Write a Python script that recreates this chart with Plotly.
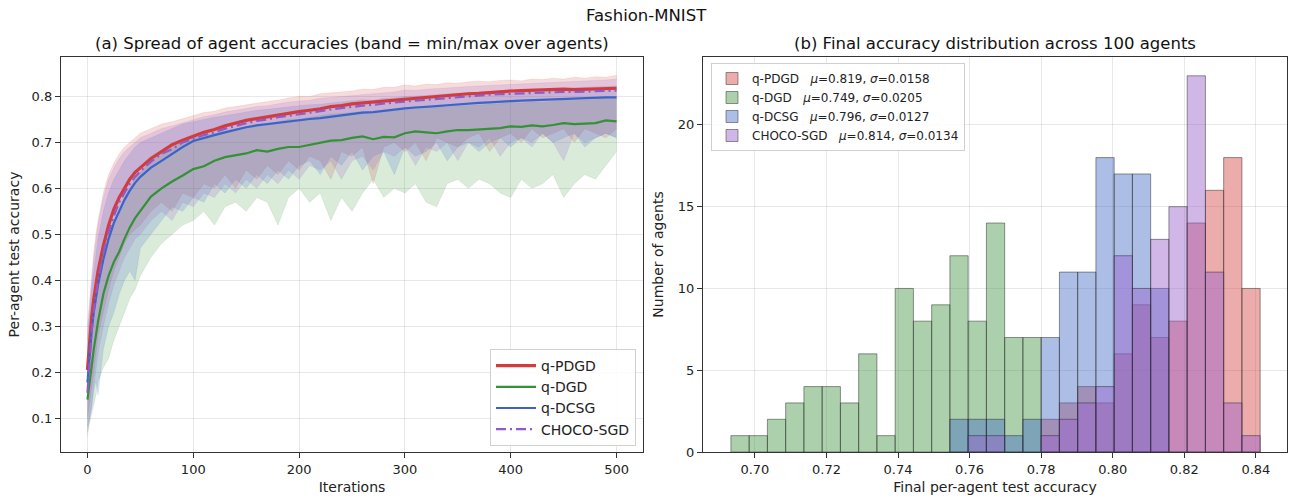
import plotly.graph_objects as go

# ---------------- data: panel (a) ----------------
iters = [0, 2, 4, 6, 8, 10, 15, 20, 25, 30, 35, 40, 45, 50,
         60, 70, 80, 90, 100, 110, 120, 130, 140, 150, 160, 170, 180, 190, 200,
         210, 220, 230, 240, 250, 260, 270, 280, 290, 300, 310, 320, 330, 340, 350,
         360, 370, 380, 390, 400, 410, 420, 430, 440, 450, 460, 470, 480, 490, 500]

pdgd_mean = [0.205, 0.27, 0.32, 0.36, 0.395, 0.42, 0.475, 0.52, 0.555, 0.58, 0.60, 0.62, 0.635, 0.645,
             0.665, 0.68, 0.695, 0.705, 0.713, 0.722, 0.728, 0.736, 0.742, 0.748, 0.752, 0.756, 0.760, 0.763, 0.767,
             0.770, 0.773, 0.778, 0.780, 0.784, 0.786, 0.789, 0.791, 0.793, 0.795, 0.797, 0.799, 0.800, 0.802, 0.804,
             0.806, 0.807, 0.809, 0.810, 0.812, 0.813, 0.814, 0.814, 0.815, 0.816, 0.815, 0.816, 0.817, 0.818, 0.818]
pdgd_lo = [0.10, 0.13, 0.16, 0.20, 0.24, 0.28, 0.33, 0.38, 0.42, 0.45, 0.48, 0.50, 0.51, 0.52,
           0.55, 0.57, 0.55, 0.59, 0.58, 0.61, 0.60, 0.63, 0.60, 0.64, 0.62, 0.65, 0.63, 0.66, 0.64,
           0.67, 0.66, 0.62, 0.68, 0.67, 0.69, 0.61, 0.69, 0.70, 0.68, 0.70, 0.66, 0.71, 0.70, 0.69,
           0.71, 0.72, 0.68, 0.71, 0.72, 0.70, 0.73, 0.71, 0.72, 0.73, 0.70, 0.73, 0.72, 0.71, 0.73]
pdgd_hi = [0.30, 0.36, 0.41, 0.46, 0.50, 0.53, 0.59, 0.63, 0.655, 0.675, 0.69, 0.70, 0.712, 0.72,
           0.73, 0.74, 0.745, 0.752, 0.758, 0.765, 0.768, 0.775, 0.778, 0.782, 0.786, 0.789, 0.792, 0.797, 0.800,
           0.800, 0.806, 0.808, 0.810, 0.812, 0.816, 0.815, 0.820, 0.820, 0.825, 0.823, 0.827, 0.826, 0.830, 0.829,
           0.832, 0.833, 0.832, 0.835, 0.836, 0.834, 0.838, 0.837, 0.840, 0.838, 0.842, 0.840, 0.843, 0.842, 0.846]

dgd_mean = [0.14, 0.18, 0.215, 0.25, 0.28, 0.31, 0.37, 0.41, 0.44, 0.462, 0.49, 0.515, 0.535, 0.55,
            0.582, 0.60, 0.615, 0.628, 0.642, 0.648, 0.66, 0.668, 0.672, 0.676, 0.683, 0.680, 0.686, 0.690, 0.690,
            0.695, 0.700, 0.704, 0.705, 0.710, 0.713, 0.707, 0.712, 0.711, 0.720, 0.724, 0.722, 0.720, 0.724, 0.727,
            0.727, 0.728, 0.730, 0.731, 0.735, 0.734, 0.737, 0.735, 0.738, 0.742, 0.740, 0.741, 0.742, 0.748, 0.746]
dgd_lo = [0.07, 0.09, 0.11, 0.13, 0.15, 0.18, 0.21, 0.23, 0.27, 0.30, 0.33, 0.36, 0.38, 0.41,
          0.45, 0.48, 0.50, 0.52, 0.53, 0.55, 0.52, 0.56, 0.57, 0.55, 0.58, 0.57, 0.52, 0.58, 0.60,
          0.57, 0.59, 0.53, 0.58, 0.55, 0.59, 0.62, 0.58, 0.60, 0.59, 0.61, 0.57, 0.56, 0.61, 0.62,
          0.60, 0.62, 0.61, 0.59, 0.58, 0.62, 0.60, 0.61, 0.63, 0.58, 0.61, 0.63, 0.62, 0.65, 0.68]
dgd_hi = [0.22, 0.27, 0.31, 0.35, 0.38, 0.41, 0.46, 0.50, 0.53, 0.55, 0.58, 0.60, 0.62, 0.635,
          0.66, 0.68, 0.69, 0.70, 0.71, 0.715, 0.72, 0.725, 0.73, 0.735, 0.74, 0.74, 0.745, 0.75, 0.75,
          0.755, 0.758, 0.762, 0.763, 0.766, 0.768, 0.765, 0.77, 0.768, 0.775, 0.778, 0.776, 0.775, 0.778, 0.78,
          0.78, 0.782, 0.783, 0.784, 0.787, 0.786, 0.788, 0.787, 0.79, 0.792, 0.791, 0.792, 0.793, 0.797, 0.795]

dcsg_mean = [0.177, 0.24, 0.29, 0.33, 0.36, 0.39, 0.445, 0.49, 0.525, 0.55, 0.575, 0.595, 0.612, 0.625,
             0.645, 0.66, 0.675, 0.69, 0.703, 0.71, 0.716, 0.722, 0.728, 0.733, 0.737, 0.740, 0.743, 0.746, 0.749,
             0.751, 0.753, 0.756, 0.759, 0.762, 0.765, 0.766, 0.769, 0.771, 0.774, 0.776, 0.777, 0.779, 0.781, 0.783,
             0.784, 0.786, 0.787, 0.789, 0.790, 0.791, 0.792, 0.793, 0.793, 0.794, 0.795, 0.796, 0.797, 0.798, 0.798]
dcsg_lo = [0.08, 0.10, 0.12, 0.16, 0.18, 0.15, 0.25, 0.30, 0.33, 0.37, 0.40, 0.42, 0.40, 0.47,
           0.50, 0.53, 0.56, 0.55, 0.58, 0.57, 0.61, 0.59, 0.62, 0.60, 0.63, 0.61, 0.64, 0.62, 0.65,
           0.66, 0.63, 0.67, 0.65, 0.68, 0.64, 0.67, 0.68, 0.63, 0.69, 0.67, 0.68, 0.70, 0.66, 0.69,
           0.70, 0.68, 0.70, 0.71, 0.69, 0.71, 0.70, 0.72, 0.70, 0.71, 0.72, 0.69, 0.71, 0.72, 0.71]
dcsg_hi = [0.27, 0.33, 0.38, 0.42, 0.46, 0.49, 0.55, 0.59, 0.62, 0.64, 0.66, 0.675, 0.69, 0.70,
           0.71, 0.72, 0.73, 0.74, 0.745, 0.75, 0.755, 0.758, 0.762, 0.766, 0.77, 0.772, 0.775, 0.777, 0.78,
           0.782, 0.783, 0.786, 0.788, 0.79, 0.793, 0.792, 0.796, 0.797, 0.80, 0.801, 0.802, 0.804, 0.806, 0.807,
           0.808, 0.81, 0.811, 0.812, 0.814, 0.813, 0.816, 0.815, 0.817, 0.818, 0.818, 0.82, 0.82, 0.822, 0.823]

choco_mean = [0.155, 0.23, 0.29, 0.335, 0.37, 0.40, 0.46, 0.505, 0.54, 0.57, 0.59, 0.61, 0.625, 0.637,
              0.658, 0.675, 0.685, 0.70, 0.708, 0.716, 0.722, 0.73, 0.736, 0.742, 0.747, 0.750, 0.755, 0.758, 0.761,
              0.765, 0.768, 0.772, 0.775, 0.778, 0.780, 0.782, 0.785, 0.787, 0.789, 0.791, 0.793, 0.795, 0.797, 0.799,
              0.800, 0.802, 0.804, 0.805, 0.806, 0.807, 0.808, 0.808, 0.809, 0.810, 0.810, 0.811, 0.812, 0.813, 0.813]
choco_lo = [0.06, 0.09, 0.13, 0.17, 0.20, 0.24, 0.30, 0.35, 0.39, 0.42, 0.45, 0.47, 0.49, 0.50,
            0.53, 0.55, 0.53, 0.57, 0.56, 0.59, 0.58, 0.61, 0.59, 0.62, 0.60, 0.63, 0.61, 0.64, 0.62,
            0.65, 0.64, 0.66, 0.62, 0.66, 0.67, 0.64, 0.68, 0.67, 0.69, 0.65, 0.69, 0.68, 0.70, 0.66,
            0.70, 0.69, 0.71, 0.67, 0.70, 0.71, 0.69, 0.72, 0.70, 0.66, 0.72, 0.70, 0.71, 0.72, 0.71]
choco_hi = [0.28, 0.35, 0.40, 0.45, 0.49, 0.52, 0.58, 0.62, 0.645, 0.665, 0.68, 0.69, 0.70, 0.71,
            0.72, 0.73, 0.736, 0.743, 0.75, 0.756, 0.76, 0.766, 0.77, 0.774, 0.778, 0.78, 0.784, 0.788, 0.79,
            0.792, 0.796, 0.798, 0.80, 0.802, 0.805, 0.806, 0.808, 0.81, 0.814, 0.813, 0.816, 0.817, 0.819, 0.82,
            0.822, 0.823, 0.824, 0.826, 0.827, 0.827, 0.829, 0.83, 0.831, 0.832, 0.833, 0.833, 0.835, 0.836, 0.838]

# ---------------- data: panel (b) ----------------
bin_lo = 0.6933
bin_width = 0.0051
n_bins = 29
hist_pdgd = [0, 0, 0, 0, 0, 0, 0, 0, 0, 0, 0, 0, 0, 0, 0, 0, 0, 2, 3, 4, 3, 6, 9, 7, 8, 14, 16, 18, 10]
hist_dgd = [1, 1, 2, 3, 4, 4, 3, 6, 1, 10, 8, 9, 12, 8, 14, 7, 7, 0, 0, 0, 0, 0, 0, 0, 0, 0, 0, 0, 0]
hist_dcsg = [0, 0, 0, 0, 0, 0, 0, 0, 0, 0, 0, 0, 2, 2, 2, 1, 2, 7, 11, 11, 18, 17, 17, 10, 0, 0, 0, 0, 0]
hist_choco = [0, 0, 0, 0, 0, 0, 0, 0, 0, 0, 0, 0, 0, 1, 1, 0, 0, 1, 2, 3, 4, 12, 10, 13, 15, 23, 11, 3, 1]

names = ["q-PDGD", "q-DGD", "q-DCSG", "CHOCO-SGD"]
stats = ["<i>μ</i>=0.819, <i>σ</i>=0.0158", "<i>μ</i>=0.749, <i>σ</i>=0.0205",
         "<i>μ</i>=0.796, <i>σ</i>=0.0127", "<i>μ</i>=0.814, <i>σ</i>=0.0134"]

# ---------------- styles ----------------
FONT = "DejaVu Sans"
line_rgb = [(210, 60, 60), (52, 145, 52), (58, 100, 200), (145, 90, 200)]
line_w = [3.2, 2.2, 2.2, 2.2]
line_dash = ["solid", "solid", "solid", "10px,4px,2px,4px"]
band_alpha = 0.18
hist_rgb = [(214, 72, 72), (70, 150, 70), (70, 110, 200), (150, 95, 205)]
hist_alpha = 0.45


def rgba(c, a):
    return "rgba(%d,%d,%d,%.3f)" % (c[0], c[1], c[2], a)


fig = go.Figure()

series = [(pdgd_mean, pdgd_lo, pdgd_hi), (dgd_mean, dgd_lo, dgd_hi),
          (dcsg_mean, dcsg_lo, dcsg_hi), (choco_mean, choco_lo, choco_hi)]

# bands first (below every line, as in the reference)
for k, (m, lo, hi) in enumerate(series):
    fig.add_trace(go.Scatter(x=iters, y=hi, mode="lines",
                             line=dict(width=0.6, color=rgba(line_rgb[k], band_alpha)),
                             showlegend=False, hoverinfo="skip", xaxis="x", yaxis="y"))
    fig.add_trace(go.Scatter(x=iters, y=lo, mode="lines", fill="tonexty",
                             fillcolor=rgba(line_rgb[k], band_alpha),
                             line=dict(width=0.6, color=rgba(line_rgb[k], band_alpha)),
                             showlegend=False, hoverinfo="skip", xaxis="x", yaxis="y"))
# mean lines on top
for k, (m, lo, hi) in enumerate(series):
    fig.add_trace(go.Scatter(x=iters, y=m, mode="lines", name=names[k],
                             line=dict(width=line_w[k], color=rgba(line_rgb[k], 1), dash=line_dash[k]),
                             legend="legend", xaxis="x", yaxis="y"))

hists = [hist_pdgd, hist_dgd, hist_dcsg, hist_choco]
for k, h in enumerate(hists):
    xs = [bin_lo + (i + 0.5) * bin_width for i in range(n_bins) if h[i] > 0]
    ys = [h[i] for i in range(n_bins) if h[i] > 0]
    fig.add_trace(go.Bar(x=xs, y=ys, width=bin_width,
                         name=names[k] + "&nbsp;&nbsp;&nbsp;" + stats[k],
                         marker=dict(color=rgba(hist_rgb[k], hist_alpha),
                                     line=dict(color="rgba(40,40,40,0.55)", width=0.9)),
                         legend="legend2", xaxis="x2", yaxis="y2"))

W, H = 1293, 498
ydom = [1 - 452 / H, 1 - 57 / H]
axis_common = dict(showline=True, linecolor="#333333", linewidth=1.2, mirror=True,
                   ticks="outside", ticklen=5, tickwidth=1.1, tickcolor="#333333",
                   showgrid=True, gridcolor="rgba(0,0,0,0.09)", gridwidth=1,
                   zeroline=False, automargin=False,
                   tickfont=dict(family=FONT, size=13, color="#222"))

fig.update_layout(
    width=W, height=H,
    margin=dict(l=0, r=0, t=0, b=0),
    paper_bgcolor="white", plot_bgcolor="white",
    font=dict(family=FONT, color="#222"),
    barmode="overlay",
    xaxis=dict(domain=[61 / W, 643 / W], range=[-25, 525], tickvals=[0, 100, 200, 300, 400, 500],
               title=dict(text="Iterations", font=dict(family=FONT, size=14), standoff=6),
               anchor="y", **axis_common),
    yaxis=dict(domain=ydom, range=[0.026, 0.886],
               tickvals=[0.1, 0.2, 0.3, 0.4, 0.5, 0.6, 0.7, 0.8],
               ticktext=["0.1", "0.2", "0.3", "0.4", "0.5", "0.6", "0.7", "0.8"],
               title=dict(text="Per-agent test accuracy", font=dict(family=FONT, size=14), standoff=8),
               anchor="x", **axis_common),
    xaxis2=dict(domain=[703 / W, 1287 / W], range=[0.6855, 0.8487],
                tickvals=[0.70, 0.72, 0.74, 0.76, 0.78, 0.80, 0.82, 0.84], tickformat=".2f",
                title=dict(text="Final per-agent test accuracy", font=dict(family=FONT, size=14), standoff=6),
                anchor="y2", **axis_common),
    yaxis2=dict(domain=ydom, range=[0, 24.15], tickvals=[0, 5, 10, 15, 20],
                title=dict(text="Number of agents", font=dict(family=FONT, size=14), standoff=10),
                anchor="x2", **axis_common),
    legend=dict(x=636 / W, y=1 - 446 / H, xanchor="right", yanchor="bottom",
                traceorder="normal",
                bgcolor="rgba(255,255,255,0.85)", bordercolor="#d0d0d0", borderwidth=1,
                font=dict(family=FONT, size=14, color="#222"), tracegroupgap=0,
                itemwidth=40),
    legend2=dict(x=711 / W, y=1 - 63 / H, xanchor="left", yanchor="top",
                 traceorder="normal",
                 bgcolor="rgba(255,255,255,0.85)", bordercolor="#d0d0d0", borderwidth=1,
                 font=dict(family=FONT, size=12, color="#222"), tracegroupgap=0),
    annotations=[
        dict(text="Fashion-MNIST", x=0.5, y=1 - 16 / H, xref="paper", yref="paper",
             showarrow=False, font=dict(family=FONT, size=16.5, color="#111"),
             xanchor="center", yanchor="middle"),
        dict(text="(a) Spread of agent accuracies (band = min/max over agents)",
             x=352 / W, y=1 - 44 / H, xref="paper", yref="paper", showarrow=False,
             font=dict(family=FONT, size=16.5, color="#111"), xanchor="center", yanchor="middle"),
        dict(text="(b) Final accuracy distribution across 100 agents",
             x=995 / W, y=1 - 44 / H, xref="paper", yref="paper", showarrow=False,
             font=dict(family=FONT, size=16.5, color="#111"), xanchor="center", yanchor="middle"),
    ],
)

fig.write_html("out.html")
